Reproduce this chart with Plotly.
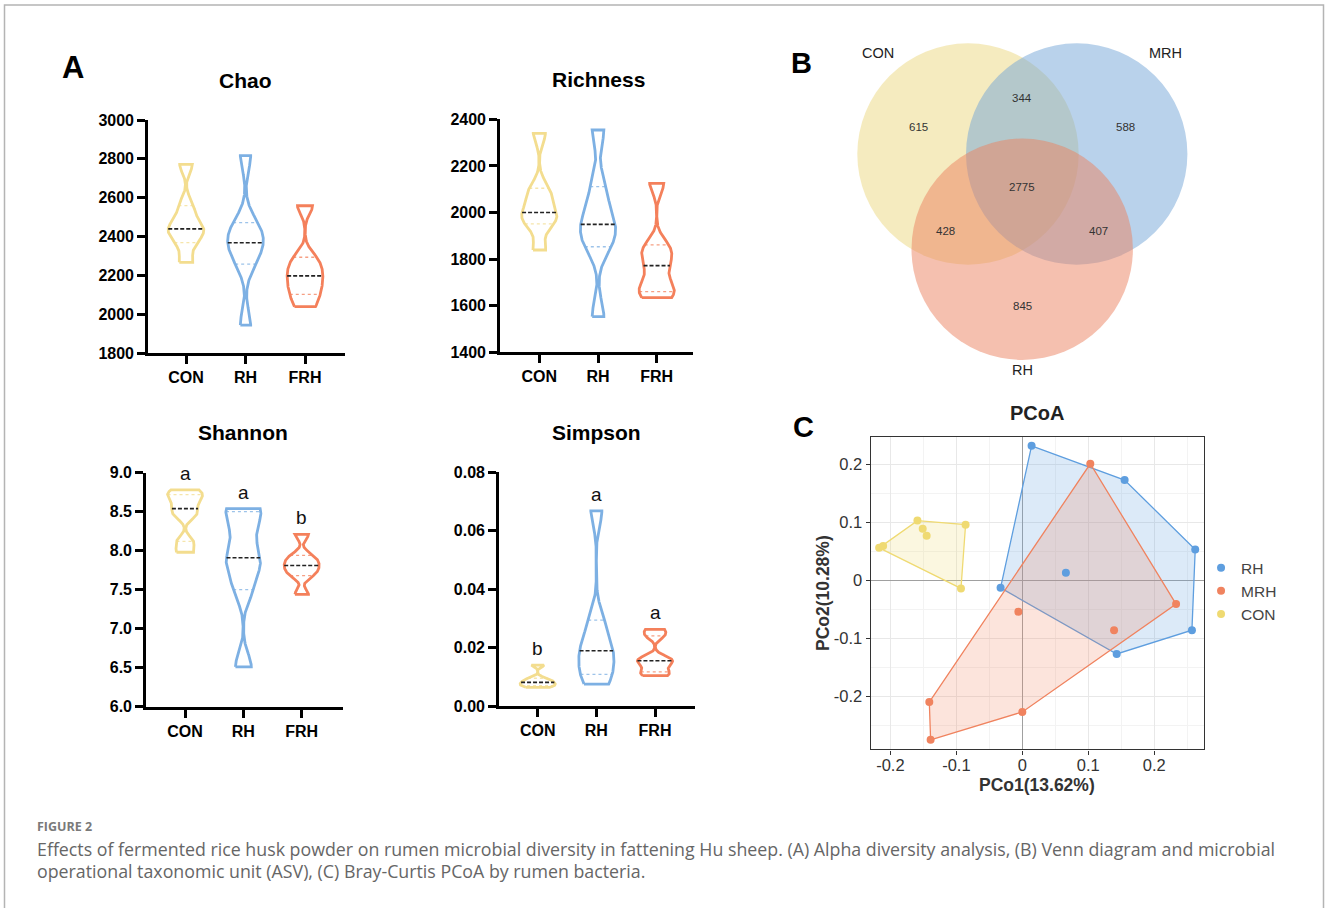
import numpy as np
import plotly.graph_objects as go

W, H = 1328, 908

# ---------------- data ----------------
groups_alpha = ["CON", "RH", "FRH"]
alpha_colors = ["#F3DD8F", "#7DB0E3", "#F4805B"]

chao_CON = [2268, 2369, 2420, 2440, 2480, 2560, 2772]
chao_RH = [1945, 2259, 2340, 2369, 2420, 2472, 2817]
chao_FRH = [2040, 2103, 2150, 2198, 2240, 2294, 2559]

rich_CON = [1839, 1951, 1980, 2000, 2060, 2104, 2340]
rich_RH = [1553, 1853, 1900, 1949, 2000, 2111, 2354]
rich_FRH = [1635, 1660, 1700, 1772, 1820, 1861, 2125]

shan_CON = [7.98, 8.12, 8.45, 8.54, 8.65, 8.72, 8.78]
shan_RH = [6.51, 7.50, 7.80, 7.91, 8.20, 8.50, 8.54]
shan_FRH = [7.44, 7.68, 7.75, 7.81, 7.87, 7.94, 8.21]

simp_CON = [0.0064, 0.0070, 0.0075, 0.0081, 0.0087, 0.0095, 0.0140]
simp_RH = [0.0075, 0.0108, 0.0150, 0.0189, 0.0220, 0.0294, 0.0668]
simp_FRH = [0.0104, 0.0117, 0.0140, 0.0155, 0.0165, 0.0240, 0.0262]

shannon_letters = ["a", "a", "b"]
simpson_letters = ["b", "a", "a"]

venn_labels = ["CON", "MRH", "RH"]
venn_counts = {"CON": 615, "MRH": 588, "RH": 845, "CON&MRH": 344,
               "CON&RH": 428, "MRH&RH": 407, "ALL": 2775}

pcoa_groups = ["RH", "MRH", "CON"]
pcoa_colors = ["#5E9EDF", "#F0835F", "#EFDA72"]
pc1_RH = [0.014, 0.155, 0.262, 0.257, 0.143, -0.033, 0.066]
pc2_RH = [0.232, 0.173, 0.053, -0.086, -0.127, -0.013, 0.013]
pc1_MRH = [0.103, 0.233, 0.139, -0.006, 0.000, -0.141, -0.139]
pc2_MRH = [0.201, -0.041, -0.086, -0.054, -0.227, -0.210, -0.275]
pc1_CON = [-0.217, -0.211, -0.159, -0.151, -0.145, -0.086, -0.093]
pc2_CON = [0.056, 0.059, 0.103, 0.089, 0.077, 0.096, -0.014]

fig = go.Figure()

# ---------------- helpers ----------------
def px_x(p):
    return p / W

def px_y(p):
    return 1 - p / H

def kde_outline(samples, bwf=0.085, n=300):
    s = np.sort(np.asarray(samples, float))
    lo, hi = s[0], s[-1]
    h = bwf * (hi - lo)
    ys = np.linspace(lo, hi, n)
    dens = np.exp(-0.5 * ((ys[:, None] - s[None, :]) / h) ** 2).sum(1)
    return ys, dens / dens.max()

def add_violin_panel(idx, data, title, yrange, dtick, fmt, xpx, ypx, letters=None):
    # xpx = (axis_left, cat0, spacing, right) ; ypx = (top px, bottom px)
    ax_left, c0, sp, ax_right = xpx
    xr = [(ax_left - c0) / sp, (ax_right - c0) / sp]
    xa = "xaxis" if idx == 1 else f"xaxis{idx}"
    ya = "yaxis" if idx == 1 else f"yaxis{idx}"
    xref = "x" if idx == 1 else f"x{idx}"
    yref = "y" if idx == 1 else f"y{idx}"
    hw = 0.30
    for gi, (vals, col) in enumerate(zip(data, alpha_colors)):
        ys, d = kde_outline(vals)
        w = d * hw
        x = np.concatenate([gi - w, (gi + w)[::-1], [gi - w[0]]])
        y = np.concatenate([ys, ys[::-1], [ys[0]]])
        fig.add_trace(go.Scatter(x=x, y=y, mode="lines", xaxis=xref, yaxis=yref,
                                 line=dict(color=col, width=2.8), showlegend=False,
                                 hoverinfo="skip"))
        q1, med, q3 = np.percentile(vals, [25, 50, 75], method="weibull")
        for q, dash, c, lw in [(q1, "dot", col, 1.3), (q3, "dot", col, 1.3), (med, "4px,2px", "#222", 1.6)]:
            wq = np.interp(q, ys, w)
            fig.add_trace(go.Scatter(x=[gi - wq, gi + wq], y=[q, q], mode="lines",
                                     xaxis=xref, yaxis=yref, opacity=0.75 if c != "#222" else 1,
                                     line=dict(color=c, width=lw, dash=dash),
                                     showlegend=False, hoverinfo="skip"))
        if letters:
            fig.add_annotation(x=gi, y=max(vals), xref=xref, yref=yref, text=letters[gi],
                               showarrow=False, yanchor="bottom", yshift=4,
                               font=dict(family="Liberation Sans, Arial", size=19, color="#111"))
    top, bot = ypx
    fig.layout[xa] = dict(domain=[px_x(ax_left), px_x(ax_right)], range=xr,
                          tickvals=[0, 1, 2], ticktext=groups_alpha, showline=True,
                          linecolor="black", linewidth=2.6, ticks="outside", ticklen=8,
                          tickwidth=2.6, tickcolor="black", showgrid=False, zeroline=False,
                          anchor=yref, fixedrange=True, automargin=False,
                          tickfont=dict(family="Liberation Sans, Arial", size=16, color="black",
                                        weight="bold"))
    fig.layout[ya] = dict(domain=[px_y(bot), px_y(top)], range=yrange, dtick=dtick,
                          tick0=yrange[0], tickformat=fmt, showline=True, linecolor="black",
                          linewidth=2.6, ticks="outside", ticklen=8, tickwidth=2.6,
                          tickcolor="black", showgrid=False, zeroline=False, anchor=xref,
                          fixedrange=True, automargin=False,
                          tickfont=dict(family="Liberation Sans, Arial", size=16, color="black",
                                        weight="bold"))
    fig.add_annotation(x=(c0 + sp), y=top - 40, xref="x6", yref="y6", text=f"<b>{title}</b>",
                       showarrow=False,
                       font=dict(family="Liberation Sans, Arial", size=21, color="black"))


add_violin_panel(1, [chao_CON, chao_RH, chao_FRH], "Chao", [1800, 3000], 200, "d",
                 (148, 186, 59.5, 345), (120, 353.3))
add_violin_panel(2, [rich_CON, rich_RH, rich_FRH], "Richness", [1400, 2400], 200, "d",
                 (500, 539.3, 58.7, 693), (119.3, 352.3))
add_violin_panel(3, [shan_CON, shan_RH, shan_FRH], "Shannon", [6.0, 9.0], 0.5, ".1f",
                 (146, 185, 58.35, 343), (472.7, 706.7), shannon_letters)
add_violin_panel(4, [simp_CON, simp_RH, simp_FRH], "Simpson", [0.0, 0.08], 0.02, ".2f",
                 (499, 537.7, 58.65, 695), (472.3, 706), simpson_letters)

# ---------------- PCoA ----------------
def convex_hull(xs, ys):
    pts = sorted(set(zip(xs, ys)))
    def cross(o, a, b):
        return (a[0]-o[0])*(b[1]-o[1]) - (a[1]-o[1])*(b[0]-o[0])
    lower, upper = [], []
    for p in pts:
        while len(lower) >= 2 and cross(lower[-2], lower[-1], p) <= 0:
            lower.pop()
        lower.append(p)
    for p in reversed(pts):
        while len(upper) >= 2 and cross(upper[-2], upper[-1], p) <= 0:
            upper.pop()
        upper.append(p)
    hull = lower[:-1] + upper[:-1]
    hull.append(hull[0])
    return [p[0] for p in hull], [p[1] for p in hull]

def rgba(hexc, a):
    hexc = hexc.lstrip("#")
    r, g, b = int(hexc[0:2], 16), int(hexc[2:4], 16), int(hexc[4:6], 16)
    return f"rgba({r},{g},{b},{a})"

pcoa_data = [(pc1_RH, pc2_RH), (pc1_MRH, pc2_MRH), (pc1_CON, pc2_CON)]
for (px1, px2), col in zip(pcoa_data, pcoa_colors):
    hx, hy = convex_hull(px1, px2)
    fig.add_trace(go.Scatter(x=hx, y=hy, mode="lines", fill="toself",
                             fillcolor=rgba(col, 0.22), line=dict(color=col, width=1.3),
                             xaxis="x5", yaxis="y5", showlegend=False, hoverinfo="skip"))
for (px1, px2), col, name in zip(pcoa_data, pcoa_colors, pcoa_groups):
    fig.add_trace(go.Scatter(x=px1, y=px2, mode="markers", name=name,
                             marker=dict(color=col, size=8),
                             xaxis="x5", yaxis="y5", showlegend=True))

pc_ticks = [-0.2, -0.1, 0, 0.1, 0.2]
pc_text = ["-0.2", "-0.1", "0", "0.1", "0.2"]
pc_font = dict(family="Liberation Sans, Arial", size=16.5, color="#333333")
fig.layout["xaxis5"] = dict(domain=[px_x(870.7), px_x(1204)], range=[-0.2298, 0.2753],
                            tickvals=pc_ticks, ticktext=pc_text, showline=True, mirror=True,
                            linecolor="#333333", linewidth=1.4, ticks="outside", ticklen=4,
                            tickcolor="#333333", showgrid=True, gridcolor="#e8e8e8",
                            gridwidth=1, zeroline=True, zerolinecolor="#a0a0a0",
                            zerolinewidth=1.2, anchor="y5", tickfont=pc_font,
                            ticklabelstandoff=-3,
                            automargin=False, fixedrange=True,
                            minor=dict(tickvals=[-0.15, -0.05, 0.05, 0.15, 0.25],
                                       showgrid=True, gridcolor="#f3f3f3", gridwidth=0.8))
fig.layout["yaxis5"] = dict(domain=[px_y(749.3), px_y(436.7)], range=[-0.2914, 0.2477],
                            tickvals=pc_ticks, ticktext=pc_text, showline=True, mirror=True,
                            linecolor="#333333", linewidth=1.4, ticks="outside", ticklen=4,
                            tickcolor="#333333", showgrid=True, gridcolor="#e8e8e8",
                            gridwidth=1, zeroline=True, zerolinecolor="#a0a0a0",
                            zerolinewidth=1.2, anchor="x5", tickfont=pc_font,
                            automargin=False, fixedrange=True,
                            minor=dict(tickvals=[-0.25, -0.15, -0.05, 0.05, 0.15],
                                       showgrid=True, gridcolor="#f3f3f3", gridwidth=0.8))

# overlay pixel axis
fig.layout["xaxis6"] = dict(domain=[0, 1], range=[0, W], visible=False, anchor="y6",
                            fixedrange=True, automargin=False)
fig.layout["yaxis6"] = dict(domain=[0, 1], range=[H, 0], visible=False, anchor="x6",
                            fixedrange=True, automargin=False)
fig.add_trace(go.Scatter(x=[W / 2], y=[H / 2], xaxis="x6", yaxis="y6", mode="markers",
                         marker=dict(opacity=0), showlegend=False, hoverinfo="skip"))

def ann(x, y, text, size, color="black", bold=False, family="Liberation Sans, Arial",
        xanchor="center", angle=0):
    fig.add_annotation(x=x, y=y, xref="x6", yref="y6", showarrow=False,
                       text=f"<b>{text}</b>" if bold else text, xanchor=xanchor,
                       yanchor="middle", textangle=angle,
                       font=dict(family=family, size=size, color=color))

ann(1037, 413, "PCoA", 20, "#222222", bold=True)
ann(1037, 785, "PCo1(13.62%)", 17.5, "#333333", bold=True)
ann(823, 593, "PCo2(10.28%)", 17.5, "#333333", bold=True, angle=-90)

# ---------------- Venn ----------------
venn_circles = [("CON", 968, 154, "rgba(236,216,128,0.5)"),
                ("MRH", 1076.7, 154, "rgba(116,166,216,0.5)"),
                ("RH", 1022.2, 249.2, "rgba(236,130,96,0.5)")]
for name, cx, cy, fc in venn_circles:
    r = 110.7
    fig.add_shape(type="circle", xref="x6", yref="y6", x0=cx - r, x1=cx + r,
                  y0=cy - r, y1=cy + r, fillcolor=fc, line=dict(width=0), layer="below")

venn_text_pos = {"CON": (918.3, 126.7), "MRH": (1125.7, 126.7), "CON&MRH": (1022.3, 97.7),
                 "ALL": (1022.3, 186.7), "CON&RH": (945.7, 231), "MRH&RH": (1098.3, 231),
                 "RH": (1022.3, 306)}
for k, (x, y) in venn_text_pos.items():
    ann(x, y, str(venn_counts[k]), 11.5, "#333333")
venn_label_pos = [(878.3, 53.3), (1165, 53.3), (1022.3, 370)]
for lab, (x, y) in zip(venn_labels, venn_label_pos):
    ann(x, y, lab, 14.5, "#222222")

# panel letters
ann(73, 67, "A", 31, bold=True)
ann(801, 63, "B", 29, bold=True)
ann(803, 427, "C", 29, bold=True)

# caption
cap_font = "Open Sans, Lato, sans-serif"
ann(35, 826, "FIGURE 2", 12.5, "#7a7a7a", bold=True, family=cap_font, xanchor="left")
ann(35, 849, "Effects of fermented rice husk powder on rumen microbial diversity in fattening Hu sheep. (A) Alpha diversity analysis, (B) Venn diagram and microbial",
    17.8, "#666666", family=cap_font, xanchor="left")
ann(35, 871, "operational taxonomic unit (ASV), (C) Bray-Curtis PCoA by rumen bacteria.",
    17.8, "#666666", family=cap_font, xanchor="left")

# frame
fig.add_shape(type="path", xref="paper", yref="paper",
              path=f"M {4.5/W},0 L {4.5/W},{1-5/H} L {1323.5/W},{1-5/H} L {1323.5/W},0",
              line=dict(color="#b4b4b4", width=1.5))

fig.update_layout(width=W, height=H,
                  margin=dict(l=0, r=0, t=0, b=0, pad=0, autoexpand=False),
                  paper_bgcolor="white", plot_bgcolor="rgba(0,0,0,0)",
                  legend=dict(x=0.9044, y=0.349, xanchor="left", yanchor="middle",
                              font=dict(family="Liberation Sans, Arial", size=15.5,
                                        color="#444444"),
                              itemwidth=30, tracegroupgap=0, bgcolor="rgba(0,0,0,0)"),
                  font=dict(family="Liberation Sans, Arial"))

fig.write_html("out.html", config={"displayModeBar": False},
               post_script="document.body.style.margin='0';document.body.style.overflow='hidden';")
